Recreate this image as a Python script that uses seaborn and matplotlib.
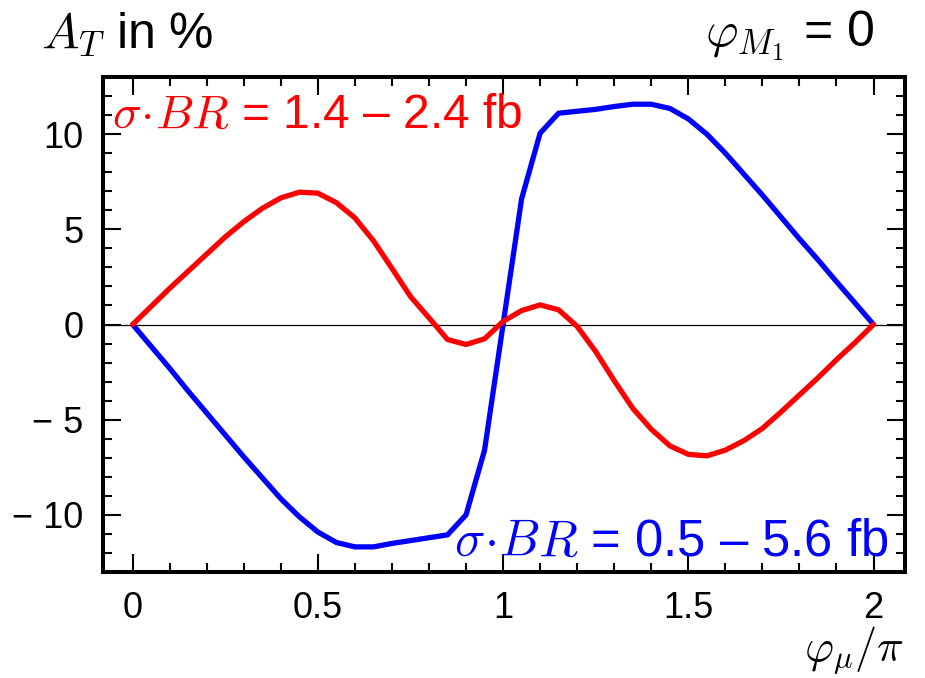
import numpy as np
import pandas as pd
import seaborn as sns
import matplotlib
matplotlib.use("Agg")
import matplotlib.pyplot as plt
from matplotlib.ticker import MultipleLocator, FixedLocator, FixedFormatter

# ---- data ----
phi_mu = [0.00, 0.05, 0.10, 0.15, 0.20, 0.25, 0.30, 0.35, 0.40, 0.45,
          0.50, 0.55, 0.60, 0.65, 0.70, 0.75, 0.80, 0.85, 0.90, 0.95,
          1.00, 1.05, 1.10, 1.15, 1.20, 1.25, 1.30, 1.35, 1.40, 1.45,
          1.50, 1.55, 1.60, 1.65, 1.70, 1.75, 1.80, 1.85, 1.90, 1.95, 2.00]
at_red = [0.00, 0.95, 1.90, 2.80, 3.70, 4.60, 5.40, 6.10, 6.65, 6.95,
          6.90, 6.40, 5.60, 4.40, 2.95, 1.47, 0.35, -0.79, -1.05, -0.75,
          0.16, 0.73, 1.03, 0.77, -0.10, -1.42, -2.95, -4.40, -5.50, -6.37,
          -6.82, -6.90, -6.60, -6.10, -5.46, -4.60, -3.70, -2.80, -1.85, -0.95, 0.00]
at_blue = [0.00, -1.15, -2.30, -3.50, -4.65, -5.80, -6.95, -8.05, -9.15, -10.10,
           -10.90, -11.45, -11.68, -11.68, -11.50, -11.35, -11.20, -11.05, -10.00, -6.60,
           0.00, 6.60, 10.05, 11.10, 11.20, 11.30, 11.45, 11.57, 11.57, 11.35,
           10.80, 10.00, 9.00, 7.90, 6.80, 5.65, 4.50, 3.40, 2.25, 1.13, 0.00]
series_names = ["red", "blue"]
label_red = r"$\sigma\!\cdot\! BR$ = 1.4 – 2.4 fb"
label_blue = r"$\sigma\!\cdot\! BR$ = 0.5 – 5.6 fb"
y_ticks = [-10, -5, 0, 5, 10]
y_ticklabels = ["− 10", "− 5", "0", "5", "10"]
x_ticks = [0, 0.5, 1, 1.5, 2]
x_ticklabels = ["0", "0.5", "1", "1.5", "2"]

df = pd.DataFrame({
    "phi": phi_mu * 2,
    "AT": at_red + at_blue,
    "series": [series_names[0]] * len(phi_mu) + [series_names[1]] * len(phi_mu),
})

sns.set_theme(style="white")
plt.rcParams["font.family"] = ["Liberation Sans", "DejaVu Sans"]
plt.rcParams["mathtext.fontset"] = "cm"
for k in ["text.color", "axes.labelcolor", "xtick.color", "ytick.color",
          "axes.edgecolor"]:
    plt.rcParams[k] = "black"

W, H = 925, 678
fig = plt.figure(figsize=(W / 100, H / 100), dpi=100)
L, R, T, B = 103, 905, 77, 572
ax = fig.add_axes([L / W, 1 - B / H, (R - L) / W, (B - T) / H])

sns.lineplot(data=df, x="phi", y="AT", hue="series",
             palette={"red": "#ff0000", "blue": "#0000ff"},
             hue_order=["blue", "red"], linewidth=3.8, legend=False,
             ax=ax, sort=False, estimator=None)

ax.axhline(0, color="black", linewidth=0.9, zorder=0)

ax.set_xlim(-0.08, 2.085)
ax.set_ylim(-13, 13)

ax.xaxis.set_major_locator(FixedLocator(x_ticks))
ax.xaxis.set_major_formatter(FixedFormatter(x_ticklabels))
ax.xaxis.set_minor_locator(MultipleLocator(0.1))
ax.yaxis.set_major_locator(FixedLocator(y_ticks))
ax.yaxis.set_major_formatter(FixedFormatter(y_ticklabels))
ax.yaxis.set_minor_locator(MultipleLocator(1))

ax.tick_params(which="both", direction="in", top=True, right=True,
               bottom=True, left=True, color="black", labelcolor="black")
ax.tick_params(which="major", length=13, width=1.5, labelsize=26, pad=14)
ax.tick_params(which="minor", length=6.5, width=1.5)

for s in ax.spines.values():
    s.set_visible(True)
    s.set_color("black")
    s.set_linewidth(2.9)

ax.set_xlabel("")
ax.set_ylabel("")

ax.text(0.011, 0.897, label_red, transform=ax.transAxes, color="#ff0000",
        fontsize=34.5, ha="left", va="baseline")
ax.text(0.979, 0.032, label_blue, transform=ax.transAxes, color="#0000ff",
        fontsize=36.5, ha="right", va="baseline")

fig.text(41 / W, 1 - 47 / H, r"$A_T$ in %", fontsize=36, ha="left", va="baseline")
fig.text(874 / W, 1 - 47 / H, r"$\varphi_{M_\mathsf{1}}$ = 0", fontsize=36,
         ha="right", va="baseline")
fig.text(904 / W, 1 - 661 / H, r"$\varphi_\mu/\pi$", fontsize=32, ha="right",
         va="baseline")

fig.savefig("out.png", dpi=100, facecolor="white")
